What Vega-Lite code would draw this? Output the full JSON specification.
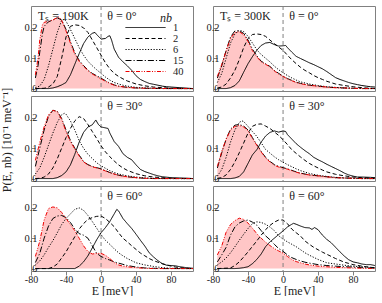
{
"$schema": "https://vega.github.io/schema/vega-lite/v6.json",
"padding": {"left": 0, "top": 5, "right": 4, "bottom": 0},
"config": {
 "font": "Liberation Serif",
 "view": {"stroke": "#808080", "strokeWidth": 1},
 "axis": {"domain": false, "grid": false, "labelFont": "Liberation Serif", "labelFontSize": 10.5, "labelColor": "#222", "tickColor": "#808080", "tickSize": -4, "labelPadding": -2, "titleFont": "Liberation Serif", "titleFontSize": 12, "titleFontWeight": "normal", "titleColor": "#222", "labelOverlap": false, "labelFlush": false}
},
"data": {"values": [
{"Ts":"190K","theta":0,"tl":"θ = 0°","sl":"Tₛ = 190K"},
{"Ts":"300K","theta":0,"tl":"θ = 0°","sl":"Tₛ = 300K"},
{"Ts":"190K","theta":30,"tl":"θ = 30°"},
{"Ts":"300K","theta":30,"tl":"θ = 30°"},
{"Ts":"190K","theta":60,"tl":"θ = 60°"},
{"Ts":"300K","theta":60,"tl":"θ = 60°"},

{"Ts":"190K","theta":0,"nb":1,"E":-75,"P":0},{"Ts":"190K","theta":0,"nb":1,"E":-60,"P":0},{"Ts":"190K","theta":0,"nb":1,"E":-55,"P":0.002},{"Ts":"190K","theta":0,"nb":1,"E":-50,"P":0.006},{"Ts":"190K","theta":0,"nb":1,"E":-45,"P":0.012},{"Ts":"190K","theta":0,"nb":1,"E":-40,"P":0.02},{"Ts":"190K","theta":0,"nb":1,"E":-35,"P":0.045},{"Ts":"190K","theta":0,"nb":1,"E":-30,"P":0.08},{"Ts":"190K","theta":0,"nb":1,"E":-25,"P":0.115},{"Ts":"190K","theta":0,"nb":1,"E":-20,"P":0.148},{"Ts":"190K","theta":0,"nb":1,"E":-15,"P":0.17},{"Ts":"190K","theta":0,"nb":1,"E":-10,"P":0.182},{"Ts":"190K","theta":0,"nb":1,"E":-7,"P":0.185},{"Ts":"190K","theta":0,"nb":1,"E":-5,"P":0.178},{"Ts":"190K","theta":0,"nb":1,"E":0,"P":0.163},{"Ts":"190K","theta":0,"nb":1,"E":5,"P":0.165},{"Ts":"190K","theta":0,"nb":1,"E":8,"P":0.172},{"Ts":"190K","theta":0,"nb":1,"E":10,"P":0.174},{"Ts":"190K","theta":0,"nb":1,"E":12,"P":0.16},{"Ts":"190K","theta":0,"nb":1,"E":15,"P":0.13},{"Ts":"190K","theta":0,"nb":1,"E":20,"P":0.103},{"Ts":"190K","theta":0,"nb":1,"E":25,"P":0.088},{"Ts":"190K","theta":0,"nb":1,"E":30,"P":0.075},{"Ts":"190K","theta":0,"nb":1,"E":35,"P":0.06},{"Ts":"190K","theta":0,"nb":1,"E":40,"P":0.042},{"Ts":"190K","theta":0,"nb":1,"E":45,"P":0.03},{"Ts":"190K","theta":0,"nb":1,"E":50,"P":0.023},{"Ts":"190K","theta":0,"nb":1,"E":55,"P":0.017},{"Ts":"190K","theta":0,"nb":1,"E":60,"P":0.014},{"Ts":"190K","theta":0,"nb":1,"E":65,"P":0.011},{"Ts":"190K","theta":0,"nb":1,"E":70,"P":0.008},{"Ts":"190K","theta":0,"nb":1,"E":75,"P":0.006},{"Ts":"190K","theta":0,"nb":1,"E":80,"P":0.005},{"Ts":"190K","theta":0,"nb":1,"E":90,"P":0.003},{"Ts":"190K","theta":0,"nb":1,"E":100,"P":0.001},{"Ts":"190K","theta":0,"nb":1,"E":105,"P":0},
{"Ts":"190K","theta":0,"nb":2,"E":-75,"P":0},{"Ts":"190K","theta":0,"nb":2,"E":-65,"P":0.001},{"Ts":"190K","theta":0,"nb":2,"E":-60,"P":0.005},{"Ts":"190K","theta":0,"nb":2,"E":-55,"P":0.015},{"Ts":"190K","theta":0,"nb":2,"E":-50,"P":0.04},{"Ts":"190K","theta":0,"nb":2,"E":-45,"P":0.1},{"Ts":"190K","theta":0,"nb":2,"E":-40,"P":0.17},{"Ts":"190K","theta":0,"nb":2,"E":-35,"P":0.205},{"Ts":"190K","theta":0,"nb":2,"E":-30,"P":0.21},{"Ts":"190K","theta":0,"nb":2,"E":-25,"P":0.208},{"Ts":"190K","theta":0,"nb":2,"E":-20,"P":0.2},{"Ts":"190K","theta":0,"nb":2,"E":-15,"P":0.185},{"Ts":"190K","theta":0,"nb":2,"E":-10,"P":0.16},{"Ts":"190K","theta":0,"nb":2,"E":-5,"P":0.135},{"Ts":"190K","theta":0,"nb":2,"E":0,"P":0.11},{"Ts":"190K","theta":0,"nb":2,"E":5,"P":0.085},{"Ts":"190K","theta":0,"nb":2,"E":10,"P":0.065},{"Ts":"190K","theta":0,"nb":2,"E":15,"P":0.05},{"Ts":"190K","theta":0,"nb":2,"E":20,"P":0.04},{"Ts":"190K","theta":0,"nb":2,"E":25,"P":0.032},{"Ts":"190K","theta":0,"nb":2,"E":30,"P":0.025},{"Ts":"190K","theta":0,"nb":2,"E":35,"P":0.02},{"Ts":"190K","theta":0,"nb":2,"E":40,"P":0.015},{"Ts":"190K","theta":0,"nb":2,"E":50,"P":0.009},{"Ts":"190K","theta":0,"nb":2,"E":60,"P":0.005},{"Ts":"190K","theta":0,"nb":2,"E":70,"P":0.003},{"Ts":"190K","theta":0,"nb":2,"E":80,"P":0.001},{"Ts":"190K","theta":0,"nb":2,"E":90,"P":0},{"Ts":"190K","theta":0,"nb":2,"E":105,"P":0},
{"Ts":"190K","theta":0,"nb":6,"E":-75,"P":0.003},{"Ts":"190K","theta":0,"nb":6,"E":-70,"P":0.008},{"Ts":"190K","theta":0,"nb":6,"E":-65,"P":0.03},{"Ts":"190K","theta":0,"nb":6,"E":-60,"P":0.075},{"Ts":"190K","theta":0,"nb":6,"E":-55,"P":0.13},{"Ts":"190K","theta":0,"nb":6,"E":-50,"P":0.185},{"Ts":"190K","theta":0,"nb":6,"E":-45,"P":0.225},{"Ts":"190K","theta":0,"nb":6,"E":-42,"P":0.228},{"Ts":"190K","theta":0,"nb":6,"E":-40,"P":0.222},{"Ts":"190K","theta":0,"nb":6,"E":-35,"P":0.195},{"Ts":"190K","theta":0,"nb":6,"E":-30,"P":0.165},{"Ts":"190K","theta":0,"nb":6,"E":-25,"P":0.135},{"Ts":"190K","theta":0,"nb":6,"E":-20,"P":0.11},{"Ts":"190K","theta":0,"nb":6,"E":-15,"P":0.09},{"Ts":"190K","theta":0,"nb":6,"E":-10,"P":0.075},{"Ts":"190K","theta":0,"nb":6,"E":-5,"P":0.062},{"Ts":"190K","theta":0,"nb":6,"E":0,"P":0.05},{"Ts":"190K","theta":0,"nb":6,"E":5,"P":0.038},{"Ts":"190K","theta":0,"nb":6,"E":10,"P":0.028},{"Ts":"190K","theta":0,"nb":6,"E":15,"P":0.02},{"Ts":"190K","theta":0,"nb":6,"E":20,"P":0.015},{"Ts":"190K","theta":0,"nb":6,"E":25,"P":0.011},{"Ts":"190K","theta":0,"nb":6,"E":30,"P":0.008},{"Ts":"190K","theta":0,"nb":6,"E":40,"P":0.004},{"Ts":"190K","theta":0,"nb":6,"E":50,"P":0.002},{"Ts":"190K","theta":0,"nb":6,"E":60,"P":0.001},{"Ts":"190K","theta":0,"nb":6,"E":80,"P":0},{"Ts":"190K","theta":0,"nb":6,"E":105,"P":0},
{"Ts":"190K","theta":0,"nb":15,"E":-75,"P":0.035},{"Ts":"190K","theta":0,"nb":15,"E":-72,"P":0.075},{"Ts":"190K","theta":0,"nb":15,"E":-70,"P":0.12},{"Ts":"190K","theta":0,"nb":15,"E":-67,"P":0.18},{"Ts":"190K","theta":0,"nb":15,"E":-65,"P":0.205},{"Ts":"190K","theta":0,"nb":15,"E":-60,"P":0.22},{"Ts":"190K","theta":0,"nb":15,"E":-55,"P":0.226},{"Ts":"190K","theta":0,"nb":15,"E":-50,"P":0.233},{"Ts":"190K","theta":0,"nb":15,"E":-45,"P":0.226},{"Ts":"190K","theta":0,"nb":15,"E":-40,"P":0.195},{"Ts":"190K","theta":0,"nb":15,"E":-35,"P":0.155},{"Ts":"190K","theta":0,"nb":15,"E":-30,"P":0.118},{"Ts":"190K","theta":0,"nb":15,"E":-25,"P":0.093},{"Ts":"190K","theta":0,"nb":15,"E":-20,"P":0.076},{"Ts":"190K","theta":0,"nb":15,"E":-15,"P":0.061},{"Ts":"190K","theta":0,"nb":15,"E":-10,"P":0.05},{"Ts":"190K","theta":0,"nb":15,"E":-5,"P":0.042},{"Ts":"190K","theta":0,"nb":15,"E":0,"P":0.034},{"Ts":"190K","theta":0,"nb":15,"E":5,"P":0.026},{"Ts":"190K","theta":0,"nb":15,"E":10,"P":0.018},{"Ts":"190K","theta":0,"nb":15,"E":15,"P":0.012},{"Ts":"190K","theta":0,"nb":15,"E":20,"P":0.008},{"Ts":"190K","theta":0,"nb":15,"E":30,"P":0.004},{"Ts":"190K","theta":0,"nb":15,"E":40,"P":0.002},{"Ts":"190K","theta":0,"nb":15,"E":50,"P":0.001},{"Ts":"190K","theta":0,"nb":15,"E":70,"P":0},{"Ts":"190K","theta":0,"nb":15,"E":105,"P":0},
{"Ts":"190K","theta":0,"nb":40,"E":-75,"P":0.045},{"Ts":"190K","theta":0,"nb":40,"E":-72,"P":0.1},{"Ts":"190K","theta":0,"nb":40,"E":-70,"P":0.16},{"Ts":"190K","theta":0,"nb":40,"E":-67,"P":0.21},{"Ts":"190K","theta":0,"nb":40,"E":-65,"P":0.218},{"Ts":"190K","theta":0,"nb":40,"E":-60,"P":0.222},{"Ts":"190K","theta":0,"nb":40,"E":-55,"P":0.226},{"Ts":"190K","theta":0,"nb":40,"E":-50,"P":0.234},{"Ts":"190K","theta":0,"nb":40,"E":-48,"P":0.236},{"Ts":"190K","theta":0,"nb":40,"E":-45,"P":0.225},{"Ts":"190K","theta":0,"nb":40,"E":-40,"P":0.19},{"Ts":"190K","theta":0,"nb":40,"E":-35,"P":0.15},{"Ts":"190K","theta":0,"nb":40,"E":-30,"P":0.114},{"Ts":"190K","theta":0,"nb":40,"E":-25,"P":0.09},{"Ts":"190K","theta":0,"nb":40,"E":-20,"P":0.074},{"Ts":"190K","theta":0,"nb":40,"E":-15,"P":0.059},{"Ts":"190K","theta":0,"nb":40,"E":-10,"P":0.048},{"Ts":"190K","theta":0,"nb":40,"E":-5,"P":0.04},{"Ts":"190K","theta":0,"nb":40,"E":0,"P":0.032},{"Ts":"190K","theta":0,"nb":40,"E":5,"P":0.024},{"Ts":"190K","theta":0,"nb":40,"E":10,"P":0.017},{"Ts":"190K","theta":0,"nb":40,"E":15,"P":0.011},{"Ts":"190K","theta":0,"nb":40,"E":20,"P":0.008},{"Ts":"190K","theta":0,"nb":40,"E":25,"P":0.006},{"Ts":"190K","theta":0,"nb":40,"E":30,"P":0.004},{"Ts":"190K","theta":0,"nb":40,"E":40,"P":0.002},{"Ts":"190K","theta":0,"nb":40,"E":50,"P":0.001},{"Ts":"190K","theta":0,"nb":40,"E":60,"P":0.001},{"Ts":"190K","theta":0,"nb":40,"E":70,"P":0},{"Ts":"190K","theta":0,"nb":40,"E":105,"P":0},

{"Ts":"300K","theta":0,"nb":1,"E":-75,"P":0},{"Ts":"300K","theta":0,"nb":1,"E":-65,"P":0},{"Ts":"300K","theta":0,"nb":1,"E":-60,"P":0.003},{"Ts":"300K","theta":0,"nb":1,"E":-55,"P":0.01},{"Ts":"300K","theta":0,"nb":1,"E":-50,"P":0.025},{"Ts":"300K","theta":0,"nb":1,"E":-45,"P":0.054},{"Ts":"300K","theta":0,"nb":1,"E":-40,"P":0.082},{"Ts":"300K","theta":0,"nb":1,"E":-35,"P":0.105},{"Ts":"300K","theta":0,"nb":1,"E":-30,"P":0.126},{"Ts":"300K","theta":0,"nb":1,"E":-25,"P":0.142},{"Ts":"300K","theta":0,"nb":1,"E":-20,"P":0.15},{"Ts":"300K","theta":0,"nb":1,"E":-15,"P":0.152},{"Ts":"300K","theta":0,"nb":1,"E":-10,"P":0.145},{"Ts":"300K","theta":0,"nb":1,"E":-5,"P":0.14},{"Ts":"300K","theta":0,"nb":1,"E":0,"P":0.141},{"Ts":"300K","theta":0,"nb":1,"E":3,"P":0.142},{"Ts":"300K","theta":0,"nb":1,"E":5,"P":0.135},{"Ts":"300K","theta":0,"nb":1,"E":10,"P":0.12},{"Ts":"300K","theta":0,"nb":1,"E":15,"P":0.106},{"Ts":"300K","theta":0,"nb":1,"E":20,"P":0.099},{"Ts":"300K","theta":0,"nb":1,"E":25,"P":0.092},{"Ts":"300K","theta":0,"nb":1,"E":30,"P":0.085},{"Ts":"300K","theta":0,"nb":1,"E":35,"P":0.079},{"Ts":"300K","theta":0,"nb":1,"E":40,"P":0.072},{"Ts":"300K","theta":0,"nb":1,"E":45,"P":0.065},{"Ts":"300K","theta":0,"nb":1,"E":50,"P":0.056},{"Ts":"300K","theta":0,"nb":1,"E":55,"P":0.046},{"Ts":"300K","theta":0,"nb":1,"E":60,"P":0.036},{"Ts":"300K","theta":0,"nb":1,"E":65,"P":0.03},{"Ts":"300K","theta":0,"nb":1,"E":70,"P":0.025},{"Ts":"300K","theta":0,"nb":1,"E":75,"P":0.02},{"Ts":"300K","theta":0,"nb":1,"E":80,"P":0.016},{"Ts":"300K","theta":0,"nb":1,"E":85,"P":0.013},{"Ts":"300K","theta":0,"nb":1,"E":90,"P":0.01},{"Ts":"300K","theta":0,"nb":1,"E":95,"P":0.008},{"Ts":"300K","theta":0,"nb":1,"E":100,"P":0.006},{"Ts":"300K","theta":0,"nb":1,"E":105,"P":0.005},
{"Ts":"300K","theta":0,"nb":2,"E":-75,"P":0.002},{"Ts":"300K","theta":0,"nb":2,"E":-70,"P":0.005},{"Ts":"300K","theta":0,"nb":2,"E":-65,"P":0.015},{"Ts":"300K","theta":0,"nb":2,"E":-60,"P":0.035},{"Ts":"300K","theta":0,"nb":2,"E":-55,"P":0.06},{"Ts":"300K","theta":0,"nb":2,"E":-50,"P":0.095},{"Ts":"300K","theta":0,"nb":2,"E":-45,"P":0.135},{"Ts":"300K","theta":0,"nb":2,"E":-40,"P":0.165},{"Ts":"300K","theta":0,"nb":2,"E":-35,"P":0.178},{"Ts":"300K","theta":0,"nb":2,"E":-30,"P":0.18},{"Ts":"300K","theta":0,"nb":2,"E":-25,"P":0.178},{"Ts":"300K","theta":0,"nb":2,"E":-20,"P":0.172},{"Ts":"300K","theta":0,"nb":2,"E":-15,"P":0.16},{"Ts":"300K","theta":0,"nb":2,"E":-10,"P":0.148},{"Ts":"300K","theta":0,"nb":2,"E":-5,"P":0.137},{"Ts":"300K","theta":0,"nb":2,"E":0,"P":0.126},{"Ts":"300K","theta":0,"nb":2,"E":5,"P":0.11},{"Ts":"300K","theta":0,"nb":2,"E":10,"P":0.095},{"Ts":"300K","theta":0,"nb":2,"E":15,"P":0.082},{"Ts":"300K","theta":0,"nb":2,"E":20,"P":0.07},{"Ts":"300K","theta":0,"nb":2,"E":25,"P":0.06},{"Ts":"300K","theta":0,"nb":2,"E":30,"P":0.052},{"Ts":"300K","theta":0,"nb":2,"E":35,"P":0.043},{"Ts":"300K","theta":0,"nb":2,"E":40,"P":0.036},{"Ts":"300K","theta":0,"nb":2,"E":45,"P":0.03},{"Ts":"300K","theta":0,"nb":2,"E":50,"P":0.024},{"Ts":"300K","theta":0,"nb":2,"E":60,"P":0.015},{"Ts":"300K","theta":0,"nb":2,"E":70,"P":0.01},{"Ts":"300K","theta":0,"nb":2,"E":80,"P":0.006},{"Ts":"300K","theta":0,"nb":2,"E":90,"P":0.003},{"Ts":"300K","theta":0,"nb":2,"E":100,"P":0.001},{"Ts":"300K","theta":0,"nb":2,"E":105,"P":0},
{"Ts":"300K","theta":0,"nb":6,"E":-75,"P":0.02},{"Ts":"300K","theta":0,"nb":6,"E":-70,"P":0.05},{"Ts":"300K","theta":0,"nb":6,"E":-65,"P":0.1},{"Ts":"300K","theta":0,"nb":6,"E":-60,"P":0.15},{"Ts":"300K","theta":0,"nb":6,"E":-55,"P":0.18},{"Ts":"300K","theta":0,"nb":6,"E":-50,"P":0.192},{"Ts":"300K","theta":0,"nb":6,"E":-45,"P":0.188},{"Ts":"300K","theta":0,"nb":6,"E":-40,"P":0.172},{"Ts":"300K","theta":0,"nb":6,"E":-35,"P":0.15},{"Ts":"300K","theta":0,"nb":6,"E":-30,"P":0.128},{"Ts":"300K","theta":0,"nb":6,"E":-25,"P":0.112},{"Ts":"300K","theta":0,"nb":6,"E":-20,"P":0.1},{"Ts":"300K","theta":0,"nb":6,"E":-15,"P":0.088},{"Ts":"300K","theta":0,"nb":6,"E":-10,"P":0.074},{"Ts":"300K","theta":0,"nb":6,"E":-5,"P":0.062},{"Ts":"300K","theta":0,"nb":6,"E":0,"P":0.052},{"Ts":"300K","theta":0,"nb":6,"E":5,"P":0.043},{"Ts":"300K","theta":0,"nb":6,"E":10,"P":0.035},{"Ts":"300K","theta":0,"nb":6,"E":15,"P":0.028},{"Ts":"300K","theta":0,"nb":6,"E":20,"P":0.022},{"Ts":"300K","theta":0,"nb":6,"E":30,"P":0.015},{"Ts":"300K","theta":0,"nb":6,"E":40,"P":0.01},{"Ts":"300K","theta":0,"nb":6,"E":50,"P":0.006},{"Ts":"300K","theta":0,"nb":6,"E":60,"P":0.004},{"Ts":"300K","theta":0,"nb":6,"E":70,"P":0.002},{"Ts":"300K","theta":0,"nb":6,"E":80,"P":0.001},{"Ts":"300K","theta":0,"nb":6,"E":90,"P":0},{"Ts":"300K","theta":0,"nb":6,"E":105,"P":0},
{"Ts":"300K","theta":0,"nb":15,"E":-75,"P":0.035},{"Ts":"300K","theta":0,"nb":15,"E":-70,"P":0.075},{"Ts":"300K","theta":0,"nb":15,"E":-65,"P":0.125},{"Ts":"300K","theta":0,"nb":15,"E":-60,"P":0.17},{"Ts":"300K","theta":0,"nb":15,"E":-55,"P":0.19},{"Ts":"300K","theta":0,"nb":15,"E":-50,"P":0.19},{"Ts":"300K","theta":0,"nb":15,"E":-45,"P":0.182},{"Ts":"300K","theta":0,"nb":15,"E":-40,"P":0.16},{"Ts":"300K","theta":0,"nb":15,"E":-35,"P":0.13},{"Ts":"300K","theta":0,"nb":15,"E":-30,"P":0.108},{"Ts":"300K","theta":0,"nb":15,"E":-25,"P":0.09},{"Ts":"300K","theta":0,"nb":15,"E":-20,"P":0.082},{"Ts":"300K","theta":0,"nb":15,"E":-15,"P":0.073},{"Ts":"300K","theta":0,"nb":15,"E":-10,"P":0.06},{"Ts":"300K","theta":0,"nb":15,"E":-5,"P":0.05},{"Ts":"300K","theta":0,"nb":15,"E":0,"P":0.041},{"Ts":"300K","theta":0,"nb":15,"E":5,"P":0.033},{"Ts":"300K","theta":0,"nb":15,"E":10,"P":0.027},{"Ts":"300K","theta":0,"nb":15,"E":15,"P":0.021},{"Ts":"300K","theta":0,"nb":15,"E":20,"P":0.017},{"Ts":"300K","theta":0,"nb":15,"E":30,"P":0.011},{"Ts":"300K","theta":0,"nb":15,"E":40,"P":0.008},{"Ts":"300K","theta":0,"nb":15,"E":50,"P":0.005},{"Ts":"300K","theta":0,"nb":15,"E":60,"P":0.003},{"Ts":"300K","theta":0,"nb":15,"E":80,"P":0.001},{"Ts":"300K","theta":0,"nb":15,"E":90,"P":0},{"Ts":"300K","theta":0,"nb":15,"E":105,"P":0},
{"Ts":"300K","theta":0,"nb":40,"E":-75,"P":0.04},{"Ts":"300K","theta":0,"nb":40,"E":-70,"P":0.08},{"Ts":"300K","theta":0,"nb":40,"E":-65,"P":0.125},{"Ts":"300K","theta":0,"nb":40,"E":-60,"P":0.165},{"Ts":"300K","theta":0,"nb":40,"E":-55,"P":0.185},{"Ts":"300K","theta":0,"nb":40,"E":-50,"P":0.187},{"Ts":"300K","theta":0,"nb":40,"E":-45,"P":0.178},{"Ts":"300K","theta":0,"nb":40,"E":-40,"P":0.155},{"Ts":"300K","theta":0,"nb":40,"E":-35,"P":0.125},{"Ts":"300K","theta":0,"nb":40,"E":-30,"P":0.105},{"Ts":"300K","theta":0,"nb":40,"E":-25,"P":0.088},{"Ts":"300K","theta":0,"nb":40,"E":-20,"P":0.08},{"Ts":"300K","theta":0,"nb":40,"E":-15,"P":0.072},{"Ts":"300K","theta":0,"nb":40,"E":-10,"P":0.058},{"Ts":"300K","theta":0,"nb":40,"E":-5,"P":0.048},{"Ts":"300K","theta":0,"nb":40,"E":0,"P":0.04},{"Ts":"300K","theta":0,"nb":40,"E":5,"P":0.032},{"Ts":"300K","theta":0,"nb":40,"E":10,"P":0.026},{"Ts":"300K","theta":0,"nb":40,"E":15,"P":0.02},{"Ts":"300K","theta":0,"nb":40,"E":20,"P":0.016},{"Ts":"300K","theta":0,"nb":40,"E":30,"P":0.011},{"Ts":"300K","theta":0,"nb":40,"E":40,"P":0.008},{"Ts":"300K","theta":0,"nb":40,"E":50,"P":0.005},{"Ts":"300K","theta":0,"nb":40,"E":60,"P":0.003},{"Ts":"300K","theta":0,"nb":40,"E":70,"P":0.002},{"Ts":"300K","theta":0,"nb":40,"E":80,"P":0.001},{"Ts":"300K","theta":0,"nb":40,"E":90,"P":0},{"Ts":"300K","theta":0,"nb":40,"E":105,"P":0},

{"Ts":"190K","theta":30,"nb":1,"E":-75,"P":0},{"Ts":"190K","theta":30,"nb":1,"E":-55,"P":0},{"Ts":"190K","theta":30,"nb":1,"E":-50,"P":0.003},{"Ts":"190K","theta":30,"nb":1,"E":-45,"P":0.01},{"Ts":"190K","theta":30,"nb":1,"E":-40,"P":0.022},{"Ts":"190K","theta":30,"nb":1,"E":-35,"P":0.045},{"Ts":"190K","theta":30,"nb":1,"E":-30,"P":0.08},{"Ts":"190K","theta":30,"nb":1,"E":-25,"P":0.12},{"Ts":"190K","theta":30,"nb":1,"E":-20,"P":0.152},{"Ts":"190K","theta":30,"nb":1,"E":-15,"P":0.17},{"Ts":"190K","theta":30,"nb":1,"E":-10,"P":0.177},{"Ts":"190K","theta":30,"nb":1,"E":-6,"P":0.193},{"Ts":"190K","theta":30,"nb":1,"E":-3,"P":0.178},{"Ts":"190K","theta":30,"nb":1,"E":0,"P":0.17},{"Ts":"190K","theta":30,"nb":1,"E":5,"P":0.167},{"Ts":"190K","theta":30,"nb":1,"E":8,"P":0.165},{"Ts":"190K","theta":30,"nb":1,"E":10,"P":0.15},{"Ts":"190K","theta":30,"nb":1,"E":15,"P":0.122},{"Ts":"190K","theta":30,"nb":1,"E":20,"P":0.106},{"Ts":"190K","theta":30,"nb":1,"E":25,"P":0.082},{"Ts":"190K","theta":30,"nb":1,"E":30,"P":0.07},{"Ts":"190K","theta":30,"nb":1,"E":35,"P":0.062},{"Ts":"190K","theta":30,"nb":1,"E":40,"P":0.045},{"Ts":"190K","theta":30,"nb":1,"E":45,"P":0.03},{"Ts":"190K","theta":30,"nb":1,"E":50,"P":0.023},{"Ts":"190K","theta":30,"nb":1,"E":55,"P":0.018},{"Ts":"190K","theta":30,"nb":1,"E":60,"P":0.013},{"Ts":"190K","theta":30,"nb":1,"E":65,"P":0.009},{"Ts":"190K","theta":30,"nb":1,"E":70,"P":0.006},{"Ts":"190K","theta":30,"nb":1,"E":80,"P":0.003},{"Ts":"190K","theta":30,"nb":1,"E":90,"P":0.002},{"Ts":"190K","theta":30,"nb":1,"E":100,"P":0.001},{"Ts":"190K","theta":30,"nb":1,"E":105,"P":0},
{"Ts":"190K","theta":30,"nb":2,"E":-75,"P":0},{"Ts":"190K","theta":30,"nb":2,"E":-70,"P":0.001},{"Ts":"190K","theta":30,"nb":2,"E":-65,"P":0.005},{"Ts":"190K","theta":30,"nb":2,"E":-60,"P":0.015},{"Ts":"190K","theta":30,"nb":2,"E":-55,"P":0.035},{"Ts":"190K","theta":30,"nb":2,"E":-50,"P":0.065},{"Ts":"190K","theta":30,"nb":2,"E":-45,"P":0.1},{"Ts":"190K","theta":30,"nb":2,"E":-40,"P":0.135},{"Ts":"190K","theta":30,"nb":2,"E":-35,"P":0.165},{"Ts":"190K","theta":30,"nb":2,"E":-30,"P":0.19},{"Ts":"190K","theta":30,"nb":2,"E":-25,"P":0.204},{"Ts":"190K","theta":30,"nb":2,"E":-20,"P":0.198},{"Ts":"190K","theta":30,"nb":2,"E":-15,"P":0.178},{"Ts":"190K","theta":30,"nb":2,"E":-10,"P":0.155},{"Ts":"190K","theta":30,"nb":2,"E":-5,"P":0.132},{"Ts":"190K","theta":30,"nb":2,"E":0,"P":0.108},{"Ts":"190K","theta":30,"nb":2,"E":5,"P":0.088},{"Ts":"190K","theta":30,"nb":2,"E":10,"P":0.072},{"Ts":"190K","theta":30,"nb":2,"E":15,"P":0.058},{"Ts":"190K","theta":30,"nb":2,"E":20,"P":0.045},{"Ts":"190K","theta":30,"nb":2,"E":25,"P":0.035},{"Ts":"190K","theta":30,"nb":2,"E":30,"P":0.027},{"Ts":"190K","theta":30,"nb":2,"E":40,"P":0.016},{"Ts":"190K","theta":30,"nb":2,"E":50,"P":0.009},{"Ts":"190K","theta":30,"nb":2,"E":60,"P":0.005},{"Ts":"190K","theta":30,"nb":2,"E":70,"P":0.003},{"Ts":"190K","theta":30,"nb":2,"E":80,"P":0.001},{"Ts":"190K","theta":30,"nb":2,"E":90,"P":0},{"Ts":"190K","theta":30,"nb":2,"E":105,"P":0},
{"Ts":"190K","theta":30,"nb":6,"E":-75,"P":0.015},{"Ts":"190K","theta":30,"nb":6,"E":-70,"P":0.035},{"Ts":"190K","theta":30,"nb":6,"E":-65,"P":0.07},{"Ts":"190K","theta":30,"nb":6,"E":-60,"P":0.11},{"Ts":"190K","theta":30,"nb":6,"E":-55,"P":0.15},{"Ts":"190K","theta":30,"nb":6,"E":-50,"P":0.185},{"Ts":"190K","theta":30,"nb":6,"E":-45,"P":0.21},{"Ts":"190K","theta":30,"nb":6,"E":-42,"P":0.215},{"Ts":"190K","theta":30,"nb":6,"E":-40,"P":0.212},{"Ts":"190K","theta":30,"nb":6,"E":-35,"P":0.19},{"Ts":"190K","theta":30,"nb":6,"E":-30,"P":0.16},{"Ts":"190K","theta":30,"nb":6,"E":-25,"P":0.125},{"Ts":"190K","theta":30,"nb":6,"E":-20,"P":0.1},{"Ts":"190K","theta":30,"nb":6,"E":-15,"P":0.08},{"Ts":"190K","theta":30,"nb":6,"E":-10,"P":0.066},{"Ts":"190K","theta":30,"nb":6,"E":-5,"P":0.052},{"Ts":"190K","theta":30,"nb":6,"E":0,"P":0.042},{"Ts":"190K","theta":30,"nb":6,"E":5,"P":0.034},{"Ts":"190K","theta":30,"nb":6,"E":10,"P":0.026},{"Ts":"190K","theta":30,"nb":6,"E":15,"P":0.02},{"Ts":"190K","theta":30,"nb":6,"E":20,"P":0.015},{"Ts":"190K","theta":30,"nb":6,"E":30,"P":0.009},{"Ts":"190K","theta":30,"nb":6,"E":40,"P":0.005},{"Ts":"190K","theta":30,"nb":6,"E":50,"P":0.002},{"Ts":"190K","theta":30,"nb":6,"E":60,"P":0.001},{"Ts":"190K","theta":30,"nb":6,"E":70,"P":0},{"Ts":"190K","theta":30,"nb":6,"E":105,"P":0},
{"Ts":"190K","theta":30,"nb":15,"E":-75,"P":0.04},{"Ts":"190K","theta":30,"nb":15,"E":-70,"P":0.1},{"Ts":"190K","theta":30,"nb":15,"E":-65,"P":0.16},{"Ts":"190K","theta":30,"nb":15,"E":-60,"P":0.205},{"Ts":"190K","theta":30,"nb":15,"E":-55,"P":0.225},{"Ts":"190K","theta":30,"nb":15,"E":-50,"P":0.222},{"Ts":"190K","theta":30,"nb":15,"E":-45,"P":0.198},{"Ts":"190K","theta":30,"nb":15,"E":-40,"P":0.16},{"Ts":"190K","theta":30,"nb":15,"E":-35,"P":0.126},{"Ts":"190K","theta":30,"nb":15,"E":-30,"P":0.1},{"Ts":"190K","theta":30,"nb":15,"E":-25,"P":0.077},{"Ts":"190K","theta":30,"nb":15,"E":-20,"P":0.057},{"Ts":"190K","theta":30,"nb":15,"E":-15,"P":0.046},{"Ts":"190K","theta":30,"nb":15,"E":-10,"P":0.04},{"Ts":"190K","theta":30,"nb":15,"E":-5,"P":0.036},{"Ts":"190K","theta":30,"nb":15,"E":0,"P":0.032},{"Ts":"190K","theta":30,"nb":15,"E":5,"P":0.026},{"Ts":"190K","theta":30,"nb":15,"E":10,"P":0.02},{"Ts":"190K","theta":30,"nb":15,"E":15,"P":0.015},{"Ts":"190K","theta":30,"nb":15,"E":20,"P":0.011},{"Ts":"190K","theta":30,"nb":15,"E":30,"P":0.006},{"Ts":"190K","theta":30,"nb":15,"E":40,"P":0.003},{"Ts":"190K","theta":30,"nb":15,"E":50,"P":0.001},{"Ts":"190K","theta":30,"nb":15,"E":60,"P":0},{"Ts":"190K","theta":30,"nb":15,"E":105,"P":0},
{"Ts":"190K","theta":30,"nb":40,"E":-75,"P":0.06},{"Ts":"190K","theta":30,"nb":40,"E":-70,"P":0.12},{"Ts":"190K","theta":30,"nb":40,"E":-65,"P":0.17},{"Ts":"190K","theta":30,"nb":40,"E":-60,"P":0.21},{"Ts":"190K","theta":30,"nb":40,"E":-55,"P":0.225},{"Ts":"190K","theta":30,"nb":40,"E":-50,"P":0.22},{"Ts":"190K","theta":30,"nb":40,"E":-45,"P":0.195},{"Ts":"190K","theta":30,"nb":40,"E":-40,"P":0.155},{"Ts":"190K","theta":30,"nb":40,"E":-35,"P":0.122},{"Ts":"190K","theta":30,"nb":40,"E":-30,"P":0.098},{"Ts":"190K","theta":30,"nb":40,"E":-25,"P":0.075},{"Ts":"190K","theta":30,"nb":40,"E":-20,"P":0.055},{"Ts":"190K","theta":30,"nb":40,"E":-15,"P":0.045},{"Ts":"190K","theta":30,"nb":40,"E":-10,"P":0.039},{"Ts":"190K","theta":30,"nb":40,"E":-5,"P":0.035},{"Ts":"190K","theta":30,"nb":40,"E":0,"P":0.031},{"Ts":"190K","theta":30,"nb":40,"E":5,"P":0.025},{"Ts":"190K","theta":30,"nb":40,"E":10,"P":0.02},{"Ts":"190K","theta":30,"nb":40,"E":15,"P":0.015},{"Ts":"190K","theta":30,"nb":40,"E":20,"P":0.011},{"Ts":"190K","theta":30,"nb":40,"E":25,"P":0.008},{"Ts":"190K","theta":30,"nb":40,"E":30,"P":0.006},{"Ts":"190K","theta":30,"nb":40,"E":40,"P":0.003},{"Ts":"190K","theta":30,"nb":40,"E":50,"P":0.001},{"Ts":"190K","theta":30,"nb":40,"E":60,"P":0},{"Ts":"190K","theta":30,"nb":40,"E":105,"P":0},

{"Ts":"300K","theta":30,"nb":1,"E":-75,"P":0},{"Ts":"300K","theta":30,"nb":1,"E":-60,"P":0},{"Ts":"300K","theta":30,"nb":1,"E":-55,"P":0.002},{"Ts":"300K","theta":30,"nb":1,"E":-50,"P":0.007},{"Ts":"300K","theta":30,"nb":1,"E":-45,"P":0.022},{"Ts":"300K","theta":30,"nb":1,"E":-40,"P":0.05},{"Ts":"300K","theta":30,"nb":1,"E":-35,"P":0.078},{"Ts":"300K","theta":30,"nb":1,"E":-30,"P":0.095},{"Ts":"300K","theta":30,"nb":1,"E":-25,"P":0.12},{"Ts":"300K","theta":30,"nb":1,"E":-20,"P":0.14},{"Ts":"300K","theta":30,"nb":1,"E":-15,"P":0.152},{"Ts":"300K","theta":30,"nb":1,"E":-10,"P":0.157},{"Ts":"300K","theta":30,"nb":1,"E":-5,"P":0.153},{"Ts":"300K","theta":30,"nb":1,"E":0,"P":0.157},{"Ts":"300K","theta":30,"nb":1,"E":3,"P":0.155},{"Ts":"300K","theta":30,"nb":1,"E":5,"P":0.145},{"Ts":"300K","theta":30,"nb":1,"E":10,"P":0.13},{"Ts":"300K","theta":30,"nb":1,"E":15,"P":0.115},{"Ts":"300K","theta":30,"nb":1,"E":20,"P":0.103},{"Ts":"300K","theta":30,"nb":1,"E":25,"P":0.092},{"Ts":"300K","theta":30,"nb":1,"E":30,"P":0.082},{"Ts":"300K","theta":30,"nb":1,"E":35,"P":0.07},{"Ts":"300K","theta":30,"nb":1,"E":40,"P":0.062},{"Ts":"300K","theta":30,"nb":1,"E":45,"P":0.055},{"Ts":"300K","theta":30,"nb":1,"E":50,"P":0.047},{"Ts":"300K","theta":30,"nb":1,"E":55,"P":0.04},{"Ts":"300K","theta":30,"nb":1,"E":60,"P":0.033},{"Ts":"300K","theta":30,"nb":1,"E":65,"P":0.026},{"Ts":"300K","theta":30,"nb":1,"E":70,"P":0.018},{"Ts":"300K","theta":30,"nb":1,"E":75,"P":0.012},{"Ts":"300K","theta":30,"nb":1,"E":80,"P":0.008},{"Ts":"300K","theta":30,"nb":1,"E":85,"P":0.005},{"Ts":"300K","theta":30,"nb":1,"E":90,"P":0.005},{"Ts":"300K","theta":30,"nb":1,"E":100,"P":0.004},{"Ts":"300K","theta":30,"nb":1,"E":105,"P":0.003},
{"Ts":"300K","theta":30,"nb":2,"E":-75,"P":0.001},{"Ts":"300K","theta":30,"nb":2,"E":-70,"P":0.003},{"Ts":"300K","theta":30,"nb":2,"E":-65,"P":0.012},{"Ts":"300K","theta":30,"nb":2,"E":-60,"P":0.03},{"Ts":"300K","theta":30,"nb":2,"E":-55,"P":0.055},{"Ts":"300K","theta":30,"nb":2,"E":-50,"P":0.085},{"Ts":"300K","theta":30,"nb":2,"E":-45,"P":0.117},{"Ts":"300K","theta":30,"nb":2,"E":-40,"P":0.15},{"Ts":"300K","theta":30,"nb":2,"E":-35,"P":0.172},{"Ts":"300K","theta":30,"nb":2,"E":-30,"P":0.179},{"Ts":"300K","theta":30,"nb":2,"E":-25,"P":0.18},{"Ts":"300K","theta":30,"nb":2,"E":-20,"P":0.173},{"Ts":"300K","theta":30,"nb":2,"E":-15,"P":0.165},{"Ts":"300K","theta":30,"nb":2,"E":-10,"P":0.154},{"Ts":"300K","theta":30,"nb":2,"E":-5,"P":0.142},{"Ts":"300K","theta":30,"nb":2,"E":0,"P":0.128},{"Ts":"300K","theta":30,"nb":2,"E":5,"P":0.112},{"Ts":"300K","theta":30,"nb":2,"E":10,"P":0.095},{"Ts":"300K","theta":30,"nb":2,"E":15,"P":0.083},{"Ts":"300K","theta":30,"nb":2,"E":20,"P":0.071},{"Ts":"300K","theta":30,"nb":2,"E":25,"P":0.06},{"Ts":"300K","theta":30,"nb":2,"E":30,"P":0.05},{"Ts":"300K","theta":30,"nb":2,"E":35,"P":0.042},{"Ts":"300K","theta":30,"nb":2,"E":40,"P":0.035},{"Ts":"300K","theta":30,"nb":2,"E":45,"P":0.028},{"Ts":"300K","theta":30,"nb":2,"E":50,"P":0.022},{"Ts":"300K","theta":30,"nb":2,"E":60,"P":0.014},{"Ts":"300K","theta":30,"nb":2,"E":70,"P":0.009},{"Ts":"300K","theta":30,"nb":2,"E":80,"P":0.005},{"Ts":"300K","theta":30,"nb":2,"E":90,"P":0.003},{"Ts":"300K","theta":30,"nb":2,"E":100,"P":0.002},{"Ts":"300K","theta":30,"nb":2,"E":105,"P":0.001},
{"Ts":"300K","theta":30,"nb":6,"E":-75,"P":0.008},{"Ts":"300K","theta":30,"nb":6,"E":-70,"P":0.03},{"Ts":"300K","theta":30,"nb":6,"E":-65,"P":0.07},{"Ts":"300K","theta":30,"nb":6,"E":-60,"P":0.12},{"Ts":"300K","theta":30,"nb":6,"E":-55,"P":0.16},{"Ts":"300K","theta":30,"nb":6,"E":-50,"P":0.185},{"Ts":"300K","theta":30,"nb":6,"E":-47,"P":0.19},{"Ts":"300K","theta":30,"nb":6,"E":-45,"P":0.188},{"Ts":"300K","theta":30,"nb":6,"E":-40,"P":0.172},{"Ts":"300K","theta":30,"nb":6,"E":-35,"P":0.155},{"Ts":"300K","theta":30,"nb":6,"E":-30,"P":0.139},{"Ts":"300K","theta":30,"nb":6,"E":-25,"P":0.118},{"Ts":"300K","theta":30,"nb":6,"E":-20,"P":0.096},{"Ts":"300K","theta":30,"nb":6,"E":-15,"P":0.084},{"Ts":"300K","theta":30,"nb":6,"E":-10,"P":0.072},{"Ts":"300K","theta":30,"nb":6,"E":-5,"P":0.062},{"Ts":"300K","theta":30,"nb":6,"E":0,"P":0.054},{"Ts":"300K","theta":30,"nb":6,"E":5,"P":0.046},{"Ts":"300K","theta":30,"nb":6,"E":10,"P":0.039},{"Ts":"300K","theta":30,"nb":6,"E":15,"P":0.032},{"Ts":"300K","theta":30,"nb":6,"E":20,"P":0.026},{"Ts":"300K","theta":30,"nb":6,"E":30,"P":0.017},{"Ts":"300K","theta":30,"nb":6,"E":40,"P":0.011},{"Ts":"300K","theta":30,"nb":6,"E":50,"P":0.007},{"Ts":"300K","theta":30,"nb":6,"E":60,"P":0.004},{"Ts":"300K","theta":30,"nb":6,"E":70,"P":0.002},{"Ts":"300K","theta":30,"nb":6,"E":80,"P":0.001},{"Ts":"300K","theta":30,"nb":6,"E":90,"P":0},{"Ts":"300K","theta":30,"nb":6,"E":105,"P":0},
{"Ts":"300K","theta":30,"nb":15,"E":-75,"P":0.035},{"Ts":"300K","theta":30,"nb":15,"E":-70,"P":0.085},{"Ts":"300K","theta":30,"nb":15,"E":-65,"P":0.13},{"Ts":"300K","theta":30,"nb":15,"E":-60,"P":0.163},{"Ts":"300K","theta":30,"nb":15,"E":-55,"P":0.176},{"Ts":"300K","theta":30,"nb":15,"E":-50,"P":0.178},{"Ts":"300K","theta":30,"nb":15,"E":-45,"P":0.173},{"Ts":"300K","theta":30,"nb":15,"E":-40,"P":0.16},{"Ts":"300K","theta":30,"nb":15,"E":-35,"P":0.135},{"Ts":"300K","theta":30,"nb":15,"E":-30,"P":0.112},{"Ts":"300K","theta":30,"nb":15,"E":-25,"P":0.09},{"Ts":"300K","theta":30,"nb":15,"E":-20,"P":0.07},{"Ts":"300K","theta":30,"nb":15,"E":-15,"P":0.057},{"Ts":"300K","theta":30,"nb":15,"E":-10,"P":0.046},{"Ts":"300K","theta":30,"nb":15,"E":-5,"P":0.04},{"Ts":"300K","theta":30,"nb":15,"E":0,"P":0.036},{"Ts":"300K","theta":30,"nb":15,"E":5,"P":0.032},{"Ts":"300K","theta":30,"nb":15,"E":10,"P":0.027},{"Ts":"300K","theta":30,"nb":15,"E":15,"P":0.022},{"Ts":"300K","theta":30,"nb":15,"E":20,"P":0.018},{"Ts":"300K","theta":30,"nb":15,"E":30,"P":0.012},{"Ts":"300K","theta":30,"nb":15,"E":40,"P":0.009},{"Ts":"300K","theta":30,"nb":15,"E":50,"P":0.006},{"Ts":"300K","theta":30,"nb":15,"E":60,"P":0.003},{"Ts":"300K","theta":30,"nb":15,"E":80,"P":0.001},{"Ts":"300K","theta":30,"nb":15,"E":90,"P":0},{"Ts":"300K","theta":30,"nb":15,"E":105,"P":0},
{"Ts":"300K","theta":30,"nb":40,"E":-75,"P":0.04},{"Ts":"300K","theta":30,"nb":40,"E":-70,"P":0.09},{"Ts":"300K","theta":30,"nb":40,"E":-65,"P":0.13},{"Ts":"300K","theta":30,"nb":40,"E":-60,"P":0.16},{"Ts":"300K","theta":30,"nb":40,"E":-55,"P":0.172},{"Ts":"300K","theta":30,"nb":40,"E":-50,"P":0.175},{"Ts":"300K","theta":30,"nb":40,"E":-45,"P":0.17},{"Ts":"300K","theta":30,"nb":40,"E":-40,"P":0.158},{"Ts":"300K","theta":30,"nb":40,"E":-35,"P":0.132},{"Ts":"300K","theta":30,"nb":40,"E":-30,"P":0.11},{"Ts":"300K","theta":30,"nb":40,"E":-25,"P":0.088},{"Ts":"300K","theta":30,"nb":40,"E":-20,"P":0.068},{"Ts":"300K","theta":30,"nb":40,"E":-15,"P":0.055},{"Ts":"300K","theta":30,"nb":40,"E":-10,"P":0.044},{"Ts":"300K","theta":30,"nb":40,"E":-5,"P":0.038},{"Ts":"300K","theta":30,"nb":40,"E":0,"P":0.035},{"Ts":"300K","theta":30,"nb":40,"E":5,"P":0.031},{"Ts":"300K","theta":30,"nb":40,"E":10,"P":0.026},{"Ts":"300K","theta":30,"nb":40,"E":15,"P":0.021},{"Ts":"300K","theta":30,"nb":40,"E":20,"P":0.017},{"Ts":"300K","theta":30,"nb":40,"E":25,"P":0.014},{"Ts":"300K","theta":30,"nb":40,"E":30,"P":0.012},{"Ts":"300K","theta":30,"nb":40,"E":40,"P":0.009},{"Ts":"300K","theta":30,"nb":40,"E":50,"P":0.006},{"Ts":"300K","theta":30,"nb":40,"E":60,"P":0.003},{"Ts":"300K","theta":30,"nb":40,"E":70,"P":0.002},{"Ts":"300K","theta":30,"nb":40,"E":80,"P":0.001},{"Ts":"300K","theta":30,"nb":40,"E":90,"P":0},{"Ts":"300K","theta":30,"nb":40,"E":105,"P":0},

{"Ts":"190K","theta":60,"nb":1,"E":-75,"P":0},{"Ts":"190K","theta":60,"nb":1,"E":-30,"P":0},{"Ts":"190K","theta":60,"nb":1,"E":-25,"P":0.008},{"Ts":"190K","theta":60,"nb":1,"E":-20,"P":0.022},{"Ts":"190K","theta":60,"nb":1,"E":-15,"P":0.042},{"Ts":"190K","theta":60,"nb":1,"E":-10,"P":0.068},{"Ts":"190K","theta":60,"nb":1,"E":-5,"P":0.095},{"Ts":"190K","theta":60,"nb":1,"E":0,"P":0.118},{"Ts":"190K","theta":60,"nb":1,"E":5,"P":0.135},{"Ts":"190K","theta":60,"nb":1,"E":10,"P":0.155},{"Ts":"190K","theta":60,"nb":1,"E":15,"P":0.18},{"Ts":"190K","theta":60,"nb":1,"E":18,"P":0.195},{"Ts":"190K","theta":60,"nb":1,"E":20,"P":0.19},{"Ts":"190K","theta":60,"nb":1,"E":25,"P":0.165},{"Ts":"190K","theta":60,"nb":1,"E":30,"P":0.148},{"Ts":"190K","theta":60,"nb":1,"E":35,"P":0.132},{"Ts":"190K","theta":60,"nb":1,"E":40,"P":0.113},{"Ts":"190K","theta":60,"nb":1,"E":45,"P":0.093},{"Ts":"190K","theta":60,"nb":1,"E":50,"P":0.074},{"Ts":"190K","theta":60,"nb":1,"E":55,"P":0.052},{"Ts":"190K","theta":60,"nb":1,"E":60,"P":0.038},{"Ts":"190K","theta":60,"nb":1,"E":65,"P":0.026},{"Ts":"190K","theta":60,"nb":1,"E":70,"P":0.016},{"Ts":"190K","theta":60,"nb":1,"E":75,"P":0.011},{"Ts":"190K","theta":60,"nb":1,"E":80,"P":0.01},{"Ts":"190K","theta":60,"nb":1,"E":85,"P":0.009},{"Ts":"190K","theta":60,"nb":1,"E":90,"P":0.006},{"Ts":"190K","theta":60,"nb":1,"E":95,"P":0.004},{"Ts":"190K","theta":60,"nb":1,"E":100,"P":0.002},{"Ts":"190K","theta":60,"nb":1,"E":105,"P":0.001},
{"Ts":"190K","theta":60,"nb":2,"E":-75,"P":0},{"Ts":"190K","theta":60,"nb":2,"E":-60,"P":0},{"Ts":"190K","theta":60,"nb":2,"E":-55,"P":0.005},{"Ts":"190K","theta":60,"nb":2,"E":-50,"P":0.015},{"Ts":"190K","theta":60,"nb":2,"E":-45,"P":0.035},{"Ts":"190K","theta":60,"nb":2,"E":-40,"P":0.055},{"Ts":"190K","theta":60,"nb":2,"E":-35,"P":0.08},{"Ts":"190K","theta":60,"nb":2,"E":-30,"P":0.105},{"Ts":"190K","theta":60,"nb":2,"E":-25,"P":0.13},{"Ts":"190K","theta":60,"nb":2,"E":-20,"P":0.148},{"Ts":"190K","theta":60,"nb":2,"E":-15,"P":0.162},{"Ts":"190K","theta":60,"nb":2,"E":-10,"P":0.168},{"Ts":"190K","theta":60,"nb":2,"E":-5,"P":0.172},{"Ts":"190K","theta":60,"nb":2,"E":0,"P":0.173},{"Ts":"190K","theta":60,"nb":2,"E":5,"P":0.165},{"Ts":"190K","theta":60,"nb":2,"E":10,"P":0.152},{"Ts":"190K","theta":60,"nb":2,"E":15,"P":0.138},{"Ts":"190K","theta":60,"nb":2,"E":20,"P":0.118},{"Ts":"190K","theta":60,"nb":2,"E":25,"P":0.1},{"Ts":"190K","theta":60,"nb":2,"E":30,"P":0.088},{"Ts":"190K","theta":60,"nb":2,"E":35,"P":0.075},{"Ts":"190K","theta":60,"nb":2,"E":40,"P":0.063},{"Ts":"190K","theta":60,"nb":2,"E":45,"P":0.051},{"Ts":"190K","theta":60,"nb":2,"E":50,"P":0.042},{"Ts":"190K","theta":60,"nb":2,"E":55,"P":0.033},{"Ts":"190K","theta":60,"nb":2,"E":60,"P":0.026},{"Ts":"190K","theta":60,"nb":2,"E":65,"P":0.021},{"Ts":"190K","theta":60,"nb":2,"E":70,"P":0.016},{"Ts":"190K","theta":60,"nb":2,"E":75,"P":0.012},{"Ts":"190K","theta":60,"nb":2,"E":80,"P":0.008},{"Ts":"190K","theta":60,"nb":2,"E":85,"P":0.005},{"Ts":"190K","theta":60,"nb":2,"E":90,"P":0.003},{"Ts":"190K","theta":60,"nb":2,"E":100,"P":0.001},{"Ts":"190K","theta":60,"nb":2,"E":105,"P":0},
{"Ts":"190K","theta":60,"nb":6,"E":-75,"P":0.012},{"Ts":"190K","theta":60,"nb":6,"E":-70,"P":0.025},{"Ts":"190K","theta":60,"nb":6,"E":-65,"P":0.045},{"Ts":"190K","theta":60,"nb":6,"E":-60,"P":0.07},{"Ts":"190K","theta":60,"nb":6,"E":-55,"P":0.092},{"Ts":"190K","theta":60,"nb":6,"E":-50,"P":0.118},{"Ts":"190K","theta":60,"nb":6,"E":-45,"P":0.145},{"Ts":"190K","theta":60,"nb":6,"E":-40,"P":0.165},{"Ts":"190K","theta":60,"nb":6,"E":-35,"P":0.18},{"Ts":"190K","theta":60,"nb":6,"E":-30,"P":0.195},{"Ts":"190K","theta":60,"nb":6,"E":-25,"P":0.2},{"Ts":"190K","theta":60,"nb":6,"E":-20,"P":0.192},{"Ts":"190K","theta":60,"nb":6,"E":-15,"P":0.175},{"Ts":"190K","theta":60,"nb":6,"E":-10,"P":0.155},{"Ts":"190K","theta":60,"nb":6,"E":-5,"P":0.133},{"Ts":"190K","theta":60,"nb":6,"E":0,"P":0.112},{"Ts":"190K","theta":60,"nb":6,"E":5,"P":0.093},{"Ts":"190K","theta":60,"nb":6,"E":10,"P":0.08},{"Ts":"190K","theta":60,"nb":6,"E":15,"P":0.065},{"Ts":"190K","theta":60,"nb":6,"E":20,"P":0.052},{"Ts":"190K","theta":60,"nb":6,"E":25,"P":0.042},{"Ts":"190K","theta":60,"nb":6,"E":30,"P":0.033},{"Ts":"190K","theta":60,"nb":6,"E":40,"P":0.019},{"Ts":"190K","theta":60,"nb":6,"E":50,"P":0.012},{"Ts":"190K","theta":60,"nb":6,"E":60,"P":0.007},{"Ts":"190K","theta":60,"nb":6,"E":70,"P":0.003},{"Ts":"190K","theta":60,"nb":6,"E":80,"P":0.001},{"Ts":"190K","theta":60,"nb":6,"E":90,"P":0},{"Ts":"190K","theta":60,"nb":6,"E":105,"P":0},
{"Ts":"190K","theta":60,"nb":15,"E":-75,"P":0.02},{"Ts":"190K","theta":60,"nb":15,"E":-70,"P":0.05},{"Ts":"190K","theta":60,"nb":15,"E":-65,"P":0.1},{"Ts":"190K","theta":60,"nb":15,"E":-60,"P":0.14},{"Ts":"190K","theta":60,"nb":15,"E":-55,"P":0.165},{"Ts":"190K","theta":60,"nb":15,"E":-50,"P":0.173},{"Ts":"190K","theta":60,"nb":15,"E":-45,"P":0.175},{"Ts":"190K","theta":60,"nb":15,"E":-40,"P":0.168},{"Ts":"190K","theta":60,"nb":15,"E":-35,"P":0.152},{"Ts":"190K","theta":60,"nb":15,"E":-30,"P":0.13},{"Ts":"190K","theta":60,"nb":15,"E":-25,"P":0.115},{"Ts":"190K","theta":60,"nb":15,"E":-20,"P":0.11},{"Ts":"190K","theta":60,"nb":15,"E":-15,"P":0.1},{"Ts":"190K","theta":60,"nb":15,"E":-10,"P":0.075},{"Ts":"190K","theta":60,"nb":15,"E":-5,"P":0.05},{"Ts":"190K","theta":60,"nb":15,"E":0,"P":0.04},{"Ts":"190K","theta":60,"nb":15,"E":5,"P":0.033},{"Ts":"190K","theta":60,"nb":15,"E":10,"P":0.028},{"Ts":"190K","theta":60,"nb":15,"E":15,"P":0.022},{"Ts":"190K","theta":60,"nb":15,"E":20,"P":0.018},{"Ts":"190K","theta":60,"nb":15,"E":25,"P":0.014},{"Ts":"190K","theta":60,"nb":15,"E":30,"P":0.01},{"Ts":"190K","theta":60,"nb":15,"E":40,"P":0.005},{"Ts":"190K","theta":60,"nb":15,"E":50,"P":0.002},{"Ts":"190K","theta":60,"nb":15,"E":60,"P":0.001},{"Ts":"190K","theta":60,"nb":15,"E":70,"P":0},{"Ts":"190K","theta":60,"nb":15,"E":105,"P":0},
{"Ts":"190K","theta":60,"nb":40,"E":-75,"P":0.04},{"Ts":"190K","theta":60,"nb":40,"E":-70,"P":0.09},{"Ts":"190K","theta":60,"nb":40,"E":-65,"P":0.16},{"Ts":"190K","theta":60,"nb":40,"E":-60,"P":0.198},{"Ts":"190K","theta":60,"nb":40,"E":-55,"P":0.203},{"Ts":"190K","theta":60,"nb":40,"E":-50,"P":0.2},{"Ts":"190K","theta":60,"nb":40,"E":-45,"P":0.185},{"Ts":"190K","theta":60,"nb":40,"E":-40,"P":0.165},{"Ts":"190K","theta":60,"nb":40,"E":-35,"P":0.145},{"Ts":"190K","theta":60,"nb":40,"E":-30,"P":0.125},{"Ts":"190K","theta":60,"nb":40,"E":-25,"P":0.1},{"Ts":"190K","theta":60,"nb":40,"E":-20,"P":0.075},{"Ts":"190K","theta":60,"nb":40,"E":-15,"P":0.056},{"Ts":"190K","theta":60,"nb":40,"E":-10,"P":0.048},{"Ts":"190K","theta":60,"nb":40,"E":-5,"P":0.05},{"Ts":"190K","theta":60,"nb":40,"E":0,"P":0.05},{"Ts":"190K","theta":60,"nb":40,"E":5,"P":0.044},{"Ts":"190K","theta":60,"nb":40,"E":10,"P":0.033},{"Ts":"190K","theta":60,"nb":40,"E":15,"P":0.02},{"Ts":"190K","theta":60,"nb":40,"E":20,"P":0.012},{"Ts":"190K","theta":60,"nb":40,"E":25,"P":0.008},{"Ts":"190K","theta":60,"nb":40,"E":30,"P":0.006},{"Ts":"190K","theta":60,"nb":40,"E":40,"P":0.003},{"Ts":"190K","theta":60,"nb":40,"E":50,"P":0.001},{"Ts":"190K","theta":60,"nb":40,"E":60,"P":0},{"Ts":"190K","theta":60,"nb":40,"E":105,"P":0},

{"Ts":"300K","theta":60,"nb":1,"E":-75,"P":0},{"Ts":"300K","theta":60,"nb":1,"E":-55,"P":0},{"Ts":"300K","theta":60,"nb":1,"E":-50,"P":0.001},{"Ts":"300K","theta":60,"nb":1,"E":-45,"P":0.003},{"Ts":"300K","theta":60,"nb":1,"E":-40,"P":0.006},{"Ts":"300K","theta":60,"nb":1,"E":-35,"P":0.016},{"Ts":"300K","theta":60,"nb":1,"E":-30,"P":0.03},{"Ts":"300K","theta":60,"nb":1,"E":-25,"P":0.048},{"Ts":"300K","theta":60,"nb":1,"E":-20,"P":0.072},{"Ts":"300K","theta":60,"nb":1,"E":-15,"P":0.088},{"Ts":"300K","theta":60,"nb":1,"E":-10,"P":0.1},{"Ts":"300K","theta":60,"nb":1,"E":-5,"P":0.112},{"Ts":"300K","theta":60,"nb":1,"E":0,"P":0.124},{"Ts":"300K","theta":60,"nb":1,"E":5,"P":0.137},{"Ts":"300K","theta":60,"nb":1,"E":10,"P":0.146},{"Ts":"300K","theta":60,"nb":1,"E":12,"P":0.149},{"Ts":"300K","theta":60,"nb":1,"E":15,"P":0.146},{"Ts":"300K","theta":60,"nb":1,"E":20,"P":0.14},{"Ts":"300K","theta":60,"nb":1,"E":25,"P":0.135},{"Ts":"300K","theta":60,"nb":1,"E":30,"P":0.134},{"Ts":"300K","theta":60,"nb":1,"E":33,"P":0.129},{"Ts":"300K","theta":60,"nb":1,"E":36,"P":0.135},{"Ts":"300K","theta":60,"nb":1,"E":40,"P":0.128},{"Ts":"300K","theta":60,"nb":1,"E":45,"P":0.11},{"Ts":"300K","theta":60,"nb":1,"E":50,"P":0.096},{"Ts":"300K","theta":60,"nb":1,"E":55,"P":0.085},{"Ts":"300K","theta":60,"nb":1,"E":60,"P":0.07},{"Ts":"300K","theta":60,"nb":1,"E":65,"P":0.055},{"Ts":"300K","theta":60,"nb":1,"E":70,"P":0.041},{"Ts":"300K","theta":60,"nb":1,"E":75,"P":0.029},{"Ts":"300K","theta":60,"nb":1,"E":80,"P":0.022},{"Ts":"300K","theta":60,"nb":1,"E":85,"P":0.019},{"Ts":"300K","theta":60,"nb":1,"E":90,"P":0.015},{"Ts":"300K","theta":60,"nb":1,"E":95,"P":0.013},{"Ts":"300K","theta":60,"nb":1,"E":100,"P":0.013},{"Ts":"300K","theta":60,"nb":1,"E":105,"P":0.01},
{"Ts":"300K","theta":60,"nb":2,"E":-75,"P":0},{"Ts":"300K","theta":60,"nb":2,"E":-60,"P":0.002},{"Ts":"300K","theta":60,"nb":2,"E":-55,"P":0.01},{"Ts":"300K","theta":60,"nb":2,"E":-50,"P":0.022},{"Ts":"300K","theta":60,"nb":2,"E":-45,"P":0.038},{"Ts":"300K","theta":60,"nb":2,"E":-40,"P":0.055},{"Ts":"300K","theta":60,"nb":2,"E":-35,"P":0.073},{"Ts":"300K","theta":60,"nb":2,"E":-30,"P":0.091},{"Ts":"300K","theta":60,"nb":2,"E":-25,"P":0.11},{"Ts":"300K","theta":60,"nb":2,"E":-20,"P":0.128},{"Ts":"300K","theta":60,"nb":2,"E":-15,"P":0.142},{"Ts":"300K","theta":60,"nb":2,"E":-10,"P":0.153},{"Ts":"300K","theta":60,"nb":2,"E":-5,"P":0.16},{"Ts":"300K","theta":60,"nb":2,"E":0,"P":0.16},{"Ts":"300K","theta":60,"nb":2,"E":5,"P":0.148},{"Ts":"300K","theta":60,"nb":2,"E":10,"P":0.13},{"Ts":"300K","theta":60,"nb":2,"E":15,"P":0.118},{"Ts":"300K","theta":60,"nb":2,"E":20,"P":0.107},{"Ts":"300K","theta":60,"nb":2,"E":25,"P":0.091},{"Ts":"300K","theta":60,"nb":2,"E":30,"P":0.08},{"Ts":"300K","theta":60,"nb":2,"E":35,"P":0.07},{"Ts":"300K","theta":60,"nb":2,"E":40,"P":0.062},{"Ts":"300K","theta":60,"nb":2,"E":45,"P":0.054},{"Ts":"300K","theta":60,"nb":2,"E":50,"P":0.047},{"Ts":"300K","theta":60,"nb":2,"E":55,"P":0.04},{"Ts":"300K","theta":60,"nb":2,"E":60,"P":0.033},{"Ts":"300K","theta":60,"nb":2,"E":65,"P":0.027},{"Ts":"300K","theta":60,"nb":2,"E":70,"P":0.021},{"Ts":"300K","theta":60,"nb":2,"E":75,"P":0.017},{"Ts":"300K","theta":60,"nb":2,"E":80,"P":0.013},{"Ts":"300K","theta":60,"nb":2,"E":90,"P":0.008},{"Ts":"300K","theta":60,"nb":2,"E":100,"P":0.004},{"Ts":"300K","theta":60,"nb":2,"E":105,"P":0.003},
{"Ts":"300K","theta":60,"nb":6,"E":-75,"P":0.012},{"Ts":"300K","theta":60,"nb":6,"E":-70,"P":0.022},{"Ts":"300K","theta":60,"nb":6,"E":-65,"P":0.035},{"Ts":"300K","theta":60,"nb":6,"E":-60,"P":0.052},{"Ts":"300K","theta":60,"nb":6,"E":-55,"P":0.072},{"Ts":"300K","theta":60,"nb":6,"E":-50,"P":0.093},{"Ts":"300K","theta":60,"nb":6,"E":-45,"P":0.113},{"Ts":"300K","theta":60,"nb":6,"E":-40,"P":0.132},{"Ts":"300K","theta":60,"nb":6,"E":-35,"P":0.148},{"Ts":"300K","theta":60,"nb":6,"E":-30,"P":0.154},{"Ts":"300K","theta":60,"nb":6,"E":-25,"P":0.152},{"Ts":"300K","theta":60,"nb":6,"E":-20,"P":0.146},{"Ts":"300K","theta":60,"nb":6,"E":-15,"P":0.137},{"Ts":"300K","theta":60,"nb":6,"E":-10,"P":0.125},{"Ts":"300K","theta":60,"nb":6,"E":-5,"P":0.108},{"Ts":"300K","theta":60,"nb":6,"E":0,"P":0.097},{"Ts":"300K","theta":60,"nb":6,"E":5,"P":0.088},{"Ts":"300K","theta":60,"nb":6,"E":10,"P":0.08},{"Ts":"300K","theta":60,"nb":6,"E":15,"P":0.072},{"Ts":"300K","theta":60,"nb":6,"E":20,"P":0.062},{"Ts":"300K","theta":60,"nb":6,"E":25,"P":0.052},{"Ts":"300K","theta":60,"nb":6,"E":30,"P":0.044},{"Ts":"300K","theta":60,"nb":6,"E":35,"P":0.037},{"Ts":"300K","theta":60,"nb":6,"E":40,"P":0.03},{"Ts":"300K","theta":60,"nb":6,"E":50,"P":0.019},{"Ts":"300K","theta":60,"nb":6,"E":60,"P":0.015},{"Ts":"300K","theta":60,"nb":6,"E":70,"P":0.011},{"Ts":"300K","theta":60,"nb":6,"E":80,"P":0.008},{"Ts":"300K","theta":60,"nb":6,"E":90,"P":0.006},{"Ts":"300K","theta":60,"nb":6,"E":100,"P":0.004},{"Ts":"300K","theta":60,"nb":6,"E":105,"P":0.003},
{"Ts":"300K","theta":60,"nb":15,"E":-75,"P":0.022},{"Ts":"300K","theta":60,"nb":15,"E":-70,"P":0.045},{"Ts":"300K","theta":60,"nb":15,"E":-65,"P":0.07},{"Ts":"300K","theta":60,"nb":15,"E":-60,"P":0.11},{"Ts":"300K","theta":60,"nb":15,"E":-55,"P":0.137},{"Ts":"300K","theta":60,"nb":15,"E":-50,"P":0.15},{"Ts":"300K","theta":60,"nb":15,"E":-45,"P":0.157},{"Ts":"300K","theta":60,"nb":15,"E":-40,"P":0.16},{"Ts":"300K","theta":60,"nb":15,"E":-35,"P":0.153},{"Ts":"300K","theta":60,"nb":15,"E":-30,"P":0.143},{"Ts":"300K","theta":60,"nb":15,"E":-25,"P":0.125},{"Ts":"300K","theta":60,"nb":15,"E":-20,"P":0.108},{"Ts":"300K","theta":60,"nb":15,"E":-15,"P":0.095},{"Ts":"300K","theta":60,"nb":15,"E":-10,"P":0.08},{"Ts":"300K","theta":60,"nb":15,"E":-5,"P":0.066},{"Ts":"300K","theta":60,"nb":15,"E":0,"P":0.057},{"Ts":"300K","theta":60,"nb":15,"E":5,"P":0.045},{"Ts":"300K","theta":60,"nb":15,"E":10,"P":0.036},{"Ts":"300K","theta":60,"nb":15,"E":15,"P":0.03},{"Ts":"300K","theta":60,"nb":15,"E":20,"P":0.025},{"Ts":"300K","theta":60,"nb":15,"E":25,"P":0.021},{"Ts":"300K","theta":60,"nb":15,"E":30,"P":0.018},{"Ts":"300K","theta":60,"nb":15,"E":40,"P":0.013},{"Ts":"300K","theta":60,"nb":15,"E":50,"P":0.01},{"Ts":"300K","theta":60,"nb":15,"E":60,"P":0.008},{"Ts":"300K","theta":60,"nb":15,"E":70,"P":0.006},{"Ts":"300K","theta":60,"nb":15,"E":80,"P":0.005},{"Ts":"300K","theta":60,"nb":15,"E":90,"P":0.003},{"Ts":"300K","theta":60,"nb":15,"E":100,"P":0.002},{"Ts":"300K","theta":60,"nb":15,"E":105,"P":0.001},
{"Ts":"300K","theta":60,"nb":40,"E":-75,"P":0.045},{"Ts":"300K","theta":60,"nb":40,"E":-70,"P":0.075},{"Ts":"300K","theta":60,"nb":40,"E":-65,"P":0.12},{"Ts":"300K","theta":60,"nb":40,"E":-60,"P":0.145},{"Ts":"300K","theta":60,"nb":40,"E":-55,"P":0.158},{"Ts":"300K","theta":60,"nb":40,"E":-50,"P":0.166},{"Ts":"300K","theta":60,"nb":40,"E":-45,"P":0.162},{"Ts":"300K","theta":60,"nb":40,"E":-40,"P":0.15},{"Ts":"300K","theta":60,"nb":40,"E":-35,"P":0.133},{"Ts":"300K","theta":60,"nb":40,"E":-30,"P":0.115},{"Ts":"300K","theta":60,"nb":40,"E":-25,"P":0.1},{"Ts":"300K","theta":60,"nb":40,"E":-20,"P":0.087},{"Ts":"300K","theta":60,"nb":40,"E":-15,"P":0.076},{"Ts":"300K","theta":60,"nb":40,"E":-10,"P":0.066},{"Ts":"300K","theta":60,"nb":40,"E":-5,"P":0.058},{"Ts":"300K","theta":60,"nb":40,"E":0,"P":0.051},{"Ts":"300K","theta":60,"nb":40,"E":5,"P":0.04},{"Ts":"300K","theta":60,"nb":40,"E":10,"P":0.03},{"Ts":"300K","theta":60,"nb":40,"E":15,"P":0.023},{"Ts":"300K","theta":60,"nb":40,"E":20,"P":0.019},{"Ts":"300K","theta":60,"nb":40,"E":25,"P":0.015},{"Ts":"300K","theta":60,"nb":40,"E":30,"P":0.012},{"Ts":"300K","theta":60,"nb":40,"E":40,"P":0.008},{"Ts":"300K","theta":60,"nb":40,"E":50,"P":0.006},{"Ts":"300K","theta":60,"nb":40,"E":60,"P":0.004},{"Ts":"300K","theta":60,"nb":40,"E":70,"P":0.003},{"Ts":"300K","theta":60,"nb":40,"E":80,"P":0.002},{"Ts":"300K","theta":60,"nb":40,"E":90,"P":0.001},{"Ts":"300K","theta":60,"nb":40,"E":105,"P":0}
]},
"facet": {
 "row": {"field": "theta", "type": "ordinal", "sort": [0, 30, 60], "title": "P(E, nb) [10⁻¹ meV⁻¹]", "header": {"labels": false, "titleFont": "Liberation Serif", "titleFontSize": 12, "titleFontWeight": "normal", "titleColor": "#222", "titlePadding": -1}},
 "column": {"field": "Ts", "type": "nominal", "title": null, "header": {"labels": false}}
},
"spacing": {"row": 0, "column": 11},
"resolve": {"axis": {"y": "independent"}},
"spec": {
 "width": 162,
 "height": 85,
 "layer": [
  {
   "transform": [{"filter": "datum.nb == 40"}],
   "mark": {"type": "area", "color": "#ffc6c6", "opacity": 1, "clip": true},
   "encoding": {
    "x": {"field": "E", "type": "quantitative", "scale": {"domain": [-80, 105], "nice": false, "zero": false},
          "axis": {"values": [-80,-70,-60,-50,-40,-30,-20,-10,0,10,20,30,40,50,60,70,80,90,100], "labelExpr": "datum.value % 20 == 0 ? '' + datum.value : ''", "labelFontSize": 10, "labelPadding": 3, "title": "E [meV]", "titlePadding": 1}},
    "y": {"field": "P", "type": "quantitative", "scale": {"domain": [-0.008, 0.272], "nice": false, "zero": false},
          "axis": {"values": [0, 0.05, 0.1, 0.15, 0.2, 0.25], "labelExpr": "datum.value == 0 ? '0' : ((datum.value == 0.1 || datum.value == 0.2) ? '' + datum.value : '')", "title": null}},
    "y2": {"datum": 0}
   }
  },
  {
   "transform": [{"filter": "isValid(datum.tl)"}],
   "mark": {"type": "rule", "color": "#808080", "strokeDash": [4, 3], "strokeWidth": 1},
   "encoding": {"x": {"datum": 0}}
  },
  {
   "transform": [{"filter": "isValid(datum.nb)"}],
   "mark": {"type": "line", "strokeWidth": 1, "clip": true},
   "encoding": {
    "x": {"field": "E", "type": "quantitative"},
    "y": {"field": "P", "type": "quantitative"},
    "color": {"field": "nb", "type": "ordinal", "scale": {"domain": [1, 2, 6, 15, 40], "range": ["#000000", "#000000", "#000000", "#000000", "#ee0000"]},
      "legend": {"orient": "none", "legendX": 129, "legendY": 7, "title": "nb", "titleFont": "Liberation Serif", "titleFontStyle": "italic", "titleFontWeight": "normal", "titleFontSize": 12, "titleColor": "#222", "titlePadding": -3, "symbolType": "M-8,0H0", "symbolSize": 100, "symbolStrokeWidth": 1, "labelFont": "Liberation Serif", "labelFontSize": 10.5, "labelColor": "#222", "labelOffset": 2, "rowPadding": -2.5}},
    "strokeDash": {"field": "nb", "type": "ordinal", "scale": {"domain": [1, 2, 6, 15, 40], "range": [[1, 0], [4, 2.5], [1.2, 1.6], [6, 2, 1.2, 2], [4, 1.5, 1, 1.5, 1, 1.5]]}}
   }
  },
  {
   "transform": [{"filter": "isValid(datum.tl)"}],
   "mark": {"type": "text", "align": "left", "baseline": "middle", "font": "Liberation Serif", "fontSize": 12, "color": "#222"},
   "encoding": {"x": {"datum": 7}, "y": {"datum": 0.24}, "text": {"field": "tl"}}
  },
  {
   "transform": [{"filter": "isValid(datum.sl)"}],
   "mark": {"type": "text", "align": "left", "baseline": "middle", "font": "Liberation Serif", "fontSize": 12, "color": "#222"},
   "encoding": {"x": {"datum": -72}, "y": {"datum": 0.24}, "text": {"field": "sl"}}
  }
 ]
}
}
